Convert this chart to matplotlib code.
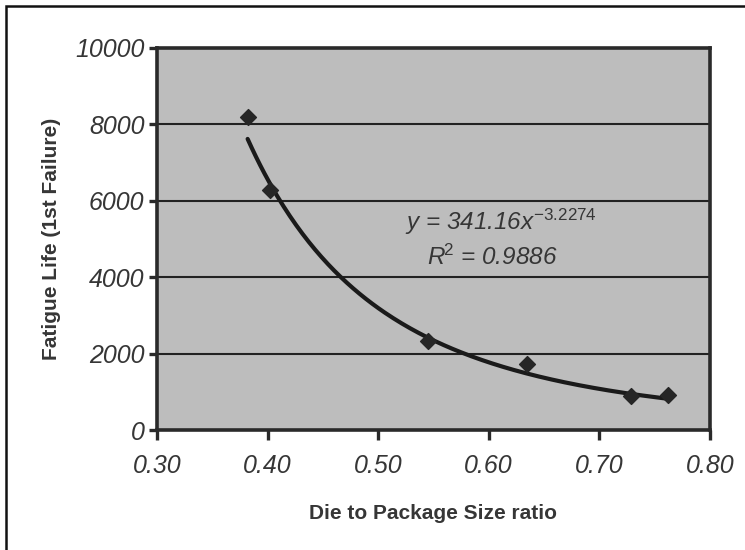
import matplotlib
matplotlib.use("Agg")
import matplotlib.pyplot as plt
from matplotlib.patches import Rectangle
import numpy as np

plt.rcParams['font.family'] = ['Liberation Sans', 'DejaVu Sans']
plt.rcParams['mathtext.fontset'] = 'custom'
plt.rcParams['mathtext.rm'] = 'Liberation Sans'
plt.rcParams['mathtext.it'] = 'Liberation Sans:italic'
plt.rcParams['mathtext.bf'] = 'Liberation Sans:bold'

# Data
die_ratio = [0.382, 0.402, 0.545, 0.635, 0.729, 0.762]
fatigue_life = [8200, 6290, 2330, 1730, 890, 915]

# Power trendline shown on the chart: y = a * x^b
trend_a = 341.16
trend_b = -3.2274
r_squared = 0.9886

x_ticks = [0.30, 0.40, 0.50, 0.60, 0.70, 0.80]
y_ticks = [0, 2000, 4000, 6000, 8000, 10000]

ink = '#2a2a2a'
txt = '#363636'
fig = plt.figure(figsize=(7.45, 5.5), dpi=100)
fig.patch.set_facecolor('white')

# outer frame of the scanned figure
fig.add_artist(Rectangle((0.008, -0.02), 1.05, 1.009, transform=fig.transFigure,
                         fill=False, edgecolor='#111111', linewidth=1.8))

ax = fig.add_axes([0.2107, 0.218, 0.742, 0.695])
ax.set_facecolor('#bdbdbd')

ax.set_xlim(0.30, 0.80)
ax.set_ylim(0, 10000)
ax.set_xticks(x_ticks)
ax.set_yticks(y_ticks)
ax.set_xticklabels([f'{v:.2f}' for v in x_ticks], fontsize=18, style='italic', color=txt)
ax.set_yticklabels([str(v) for v in y_ticks], fontsize=18, style='italic', color=txt)

ax.yaxis.grid(True, color='#222222', linewidth=1.5)
ax.xaxis.grid(False)
ax.set_axisbelow(True)

for s in ax.spines.values():
    s.set_color(ink)
    s.set_linewidth(2.6)

ax.tick_params(axis='x', direction='out', length=7, width=2.4, color=ink, pad=10)
ax.tick_params(axis='y', direction='out', length=6, width=2.4, color=ink, pad=3)

# trendline across data range
xs = np.linspace(min(die_ratio), max(die_ratio), 200)
ax.plot(xs, trend_a * xs ** trend_b, color='#1a1a1a', linewidth=3.0, solid_capstyle='round', zorder=3)

ax.scatter(die_ratio, fatigue_life, marker='D', s=65, color='#262626', zorder=4)

ax.text(0.611, 5450, r'$y$ = 341.16$x^{\mathit{-3.2274}}$', fontsize=17.5, style='italic',
        color=txt, ha='center', va='center')
ax.text(0.603, 4520, r'$R^{\!\mathit{2}}$ = 0.9886', fontsize=17.5, style='italic',
        color=txt, ha='center', va='center')

ax.set_xlabel('Die to Package Size ratio', fontsize=15, fontweight='bold', color=txt, labelpad=19)
ax.set_ylabel('Fatigue Life (1st Failure)', fontsize=15, fontweight='bold', color=txt, labelpad=10)

fig.savefig('out.png', dpi=100)
